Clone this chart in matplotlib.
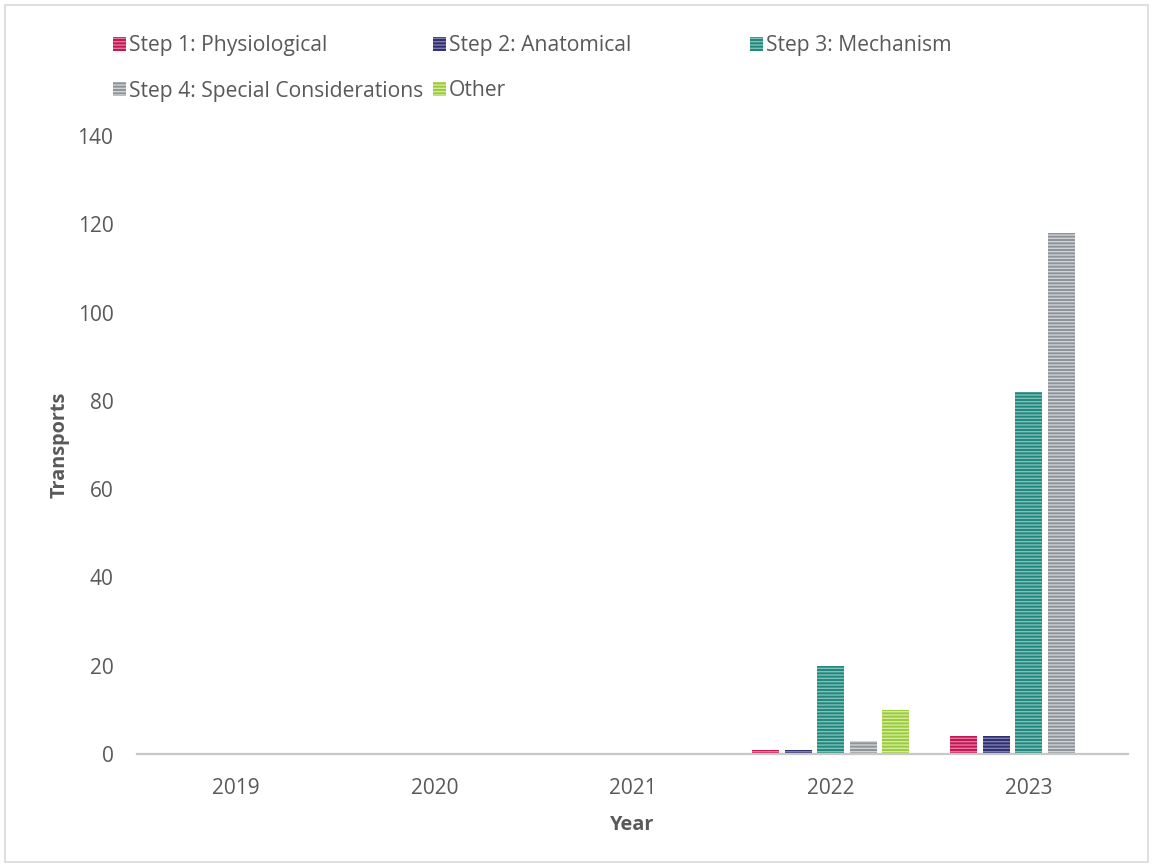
import matplotlib
matplotlib.use("Agg")
import matplotlib.pyplot as plt
from matplotlib.patches import Rectangle
import numpy as np

years = ["2019", "2020", "2021", "2022", "2023"]
series_names = ["Step 1: Physiological", "Step 2: Anatomical", "Step 3: Mechanism",
                "Step 4: Special Considerations", "Other"]
step1 = [0, 0, 0, 1, 4]
step2 = [0, 0, 0, 1, 4]
step3 = [0, 0, 0, 20, 82]
step4 = [0, 0, 0, 3, 118]
other = [0, 0, 0, 10, 0]
y_ticks = [0, 20, 40, 60, 80, 100, 120, 140]

fills = ["#C41653", "#2F2F6F", "#23867C", "#8E939A", "#9CCB3B"]
stripes = ["#E2789C", "#7D7DB0", "#7DC2B9", "#D0D3D7", "#D2EB9E"]
text_col = "#595959"

plt.rcParams["font.family"] = ["Open Sans", "DejaVu Sans"]
plt.rcParams["hatch.linewidth"] = 1.0

W, H = 1153, 867
fig = plt.figure(figsize=(W / 100, H / 100), dpi=100)
fig.patch.set_facecolor("white")

# thin frame around the chart area
fig.patches.append(Rectangle((5 / W, 5 / H), (W - 10) / W, (H - 10) / H,
                             transform=fig.transFigure, fill=False,
                             edgecolor="#D9D9D9", linewidth=1.2))

ax = fig.add_axes([137 / W, 1 - 754 / H, (1128 - 137) / W, (754 - 136) / H])

data = [step1, step2, step3, step4, other]
x = np.arange(len(years))
pitch = 0.164
width = 0.136
for i, vals in enumerate(data):
    offs = (i - 2) * pitch
    ax.bar(x + offs, vals, width=width, color=fills[i], edgecolor=stripes[i],
           linewidth=0, hatch="-----", zorder=2)

ax.set_xlim(-0.5, len(years) - 0.5)
ax.set_ylim(0, 140)
ax.set_yticks(y_ticks)
ax.set_xticks(x)
ax.set_xticklabels(years)
for s in ["left", "right", "top"]:
    ax.spines[s].set_visible(False)
ax.spines["bottom"].set_color("#C8C8C8")
ax.spines["bottom"].set_linewidth(1.6)
ax.spines["bottom"].set_zorder(3)
ax.tick_params(axis="both", length=0, labelsize=15, labelcolor=text_col)
ax.tick_params(axis="y", pad=17)
ax.tick_params(axis="x", pad=17)
ax.set_ylabel("Transports", fontsize=14.3, fontweight="bold", color=text_col, labelpad=6)
ax.set_xlabel("Year", fontsize=14.3, fontweight="bold", color=text_col, labelpad=12)

# legend laid out in two rows
legend_pos = [(113, 44), (433, 44), (750, 44), (113, 89), (433, 89)]
for i, (px, py) in enumerate(legend_pos):
    fig.patches.append(Rectangle((px / W, 1 - (py + 7) / H), 13 / W, 14 / H,
                                 transform=fig.transFigure, facecolor=fills[i],
                                 edgecolor=stripes[i], linewidth=0, hatch="-----"))
    fig.text((px + 16) / W, 1 - (py + 2) / H, series_names[i], fontsize=15.2,
             color=text_col, va="center", ha="left")

fig.savefig("out.png", dpi=100, facecolor="white")
